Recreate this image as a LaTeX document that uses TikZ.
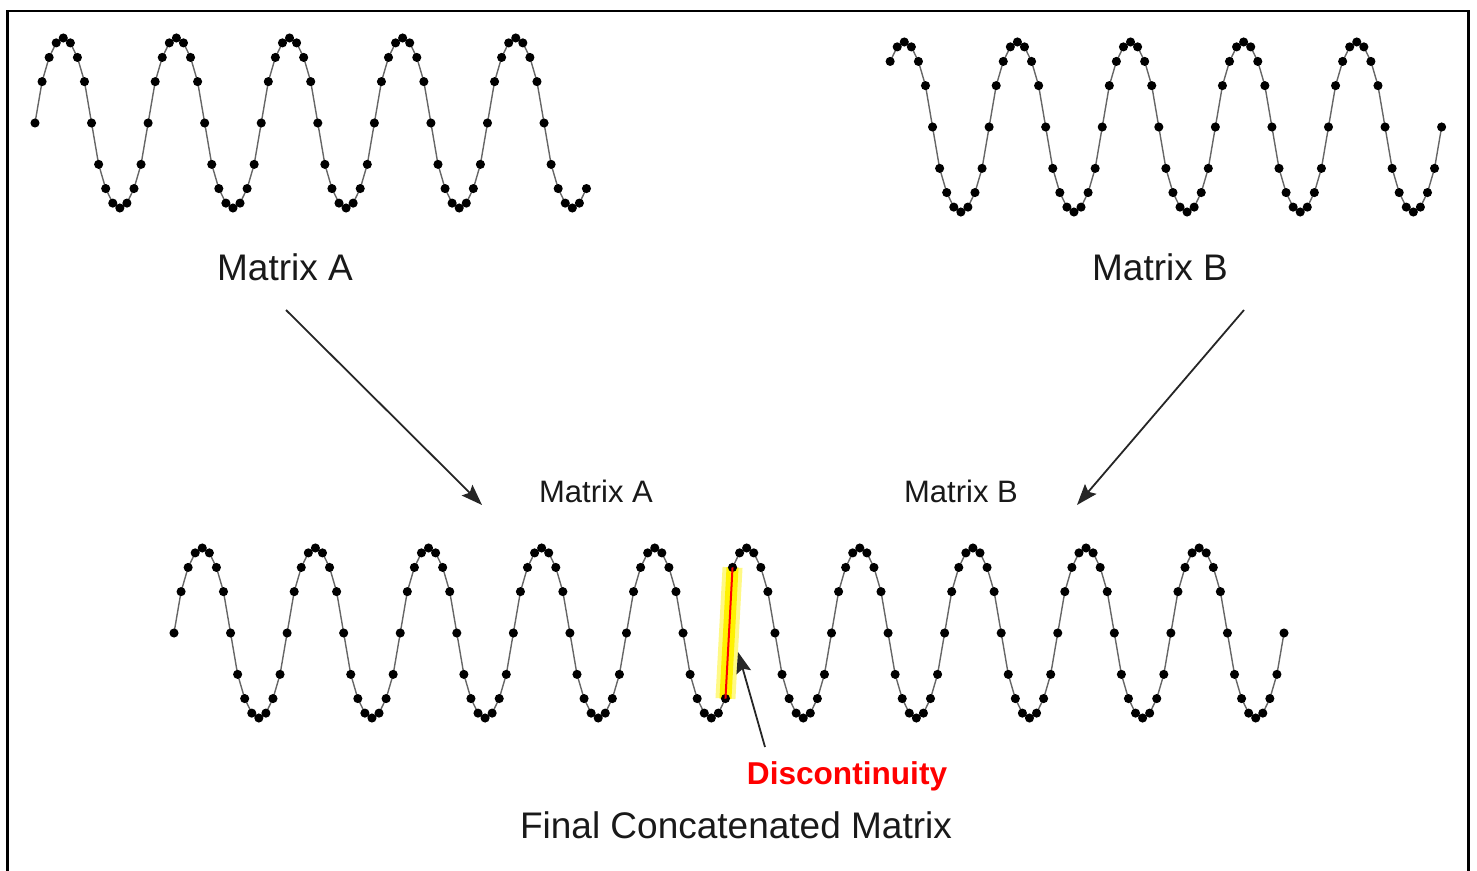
\documentclass[tikz,border=0pt]{standalone}
\usepackage{fontspec}
\setmainfont{Liberation Sans}
\usetikzlibrary{arrows.meta}

\begin{document}
\begin{tikzpicture}[x=0.5pt,y=-0.5pt,
  declare function={wv(\a)=sign(sin(\a))*(abs(sin(\a))+0.0001)^0.75;},
  wave/.style={black!60, line width=0.7pt, mark=*, mark size=1.9pt,
    mark options={black,fill=black}},
  bigtext/.style={font=\fontsize{18.5}{22}\selectfont, text=black!90},
  subtext/.style={font=\fontsize{15.5}{18}\selectfont, text=black!90},
  arr/.style={-{Stealth[length=10.5pt,width=7.5pt,inset=1.8pt]}, line width=0.9pt, black!85}]
  \useasboundingbox (0,0) rectangle (1477,871);
  \draw[line width=1.2pt] (7.3,871) -- (7.3,11) -- (1468.5,11) -- (1468.5,871);

  \draw[wave] plot[domain=0:78, samples=79] ({35+\x*7.07},{123-85*wv(\x*22.5)});
  \draw[wave] plot[domain=2:80, samples=79] ({876+\x*7.07},{127-85*wv(\x*22.5)});

  \node[bigtext] (lblA) at (285,267) {Matrix A};
  \node[bigtext] (lblB) at (1160,267) {Matrix B};
  \node[subtext] (subA) at (596,491) {Matrix A};
  \node[subtext] (subB) at (961,491) {Matrix B};

  \coordinate (aTail) at (286,310);
  \coordinate (aTip) at (482,505);
  \coordinate (bTail) at (1244,310);
  \coordinate (bTip) at (1077,505);
  \draw[arr] (aTail) -- (aTip);
  \draw[arr] (bTail) -- (bTip);

  \coordinate (aEnd) at ({174+78*7.07},{633-85*wv(1755)});
  \coordinate (bStart) at ({174+79*7.07},{633-85*wv(45)});
  \draw[yellow!60, line width=10pt, opacity=0.8] (aEnd) -- (bStart);
  \draw[yellow, line width=6pt] (aEnd) -- (bStart);

  \draw[wave] plot[domain=0:78, samples=79] ({174+\x*7.07},{633-85*wv(\x*22.5)});
  \draw[wave] plot[domain=79:157, samples=79] ({174+\x*7.07},{633-85*wv((\x-77)*22.5)});
  \draw[red, line width=1pt] (aEnd) -- (bStart);

  \node[font=\bfseries\fontsize{15.8}{19}\selectfont, text=red] (disc) at (847,776) {Discontinuity};
  \coordinate (dTail) at (765,747);
  \coordinate (dTip) at (738,652);
  \draw[arr] (dTail) -- (dTip);

  \node[bigtext] (final) at (736,825) {Final Concatenated Matrix};
\end{tikzpicture}
\end{document}
